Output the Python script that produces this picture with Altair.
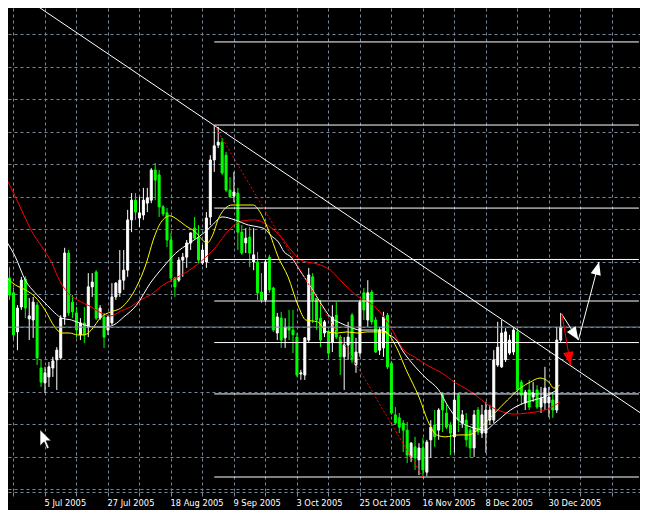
import altair as alt
import pandas as pd

# ---------------- data (EUR/USD daily) ----------------
bar_index = list(range(142))

open_ = [1.2070, 1.2175, 1.2135, 1.2030, 1.2097, 1.2172, 1.2065, 1.2062, 1.2102, 1.1933,
 1.1893, 1.1909, 1.1933, 1.1955, 1.1960, 1.2070, 1.2242, 1.2110, 1.2081, 1.2022,
 1.2054, 1.2043, 1.2151, 1.2191, 1.2067, 1.2070, 1.2035, 1.2054, 1.2124, 1.2135,
 1.2169, 1.2196, 1.2331, 1.2384, 1.2336, 1.2344, 1.2376, 1.2384, 1.2465, 1.2452,
 1.2366, 1.2350, 1.2277, 1.2175, 1.2169, 1.2223, 1.2231, 1.2269, 1.2309, 1.2282,
 1.2215, 1.2218, 1.2339, 1.2492, 1.2532, 1.2540, 1.2505, 1.2411, 1.2395, 1.2403,
 1.2298, 1.2269, 1.2285, 1.2218, 1.2218, 1.2137, 1.2116, 1.2231, 1.2148, 1.2027,
 1.2067, 1.2014, 1.2043, 1.2035, 1.2016, 1.1917, 1.1914, 1.2008, 1.2178, 1.2121,
 1.2067, 1.2027, 1.2030, 1.2003, 1.2075, 1.2016, 1.1963, 1.1995, 1.2075, 1.1941,
 1.1973, 1.2135, 1.2062, 1.2137, 1.2062, 1.1981, 1.1987, 1.2075, 1.1946, 1.1807,
 1.1799, 1.1785, 1.1766, 1.1694, 1.1721, 1.1686, 1.1718, 1.1653, 1.1740, 1.1780,
 1.1766, 1.1860, 1.1812, 1.1780, 1.1748, 1.1860, 1.1785, 1.1793, 1.1766, 1.1718,
 1.1820, 1.1758, 1.1758, 1.1793, 1.1793, 1.1941, 1.1936, 1.1955, 1.1973, 1.1976,
 1.2030, 1.1895, 1.1839, 1.1874, 1.1855, 1.1874, 1.1828, 1.1839, 1.1839, 1.1847,
 1.1820, 1.2008]

high = [1.2183, 1.2204, 1.2148, 1.2102, 1.2178, 1.2180, 1.2121, 1.2124, 1.2110, 1.1955,
 1.1936, 1.1949, 1.1963, 1.1989, 1.2075, 1.2256, 1.2250, 1.2129, 1.2097, 1.2067,
 1.2097, 1.2188, 1.2188, 1.2196, 1.2102, 1.2081, 1.2075, 1.2161, 1.2164, 1.2250,
 1.2250, 1.2358, 1.2403, 1.2403, 1.2393, 1.2417, 1.2417, 1.2470, 1.2484, 1.2465,
 1.2371, 1.2363, 1.2296, 1.2178, 1.2231, 1.2242, 1.2277, 1.2298, 1.2339, 1.2317,
 1.2264, 1.2352, 1.2505, 1.2586, 1.2581, 1.2551, 1.2514, 1.2446, 1.2460, 1.2417,
 1.2317, 1.2309, 1.2312, 1.2309, 1.2245, 1.2188, 1.2223, 1.2237, 1.2151, 1.2081,
 1.2084, 1.2067, 1.2089, 1.2089, 1.2027, 1.1928, 1.2016, 1.2202, 1.2188, 1.2124,
 1.2116, 1.2062, 1.2035, 1.2102, 1.2110, 1.2022, 1.2016, 1.2057, 1.2081, 1.2014,
 1.2116, 1.2148, 1.2169, 1.2143, 1.2070, 1.2043, 1.2084, 1.2081, 1.1952, 1.1828,
 1.1812, 1.1793, 1.1788, 1.1734, 1.1748, 1.1731, 1.1745, 1.1740, 1.1793, 1.1820,
 1.1825, 1.1866, 1.1834, 1.1788, 1.1901, 1.1866, 1.1820, 1.1812, 1.1772, 1.1820,
 1.1828, 1.1834, 1.1842, 1.1834, 1.1981, 1.2057, 1.2062, 1.2040, 1.2022, 1.2040,
 1.2040, 1.1901, 1.1874, 1.1901, 1.1895, 1.1887, 1.1882, 1.1936, 1.1882, 1.1868,
 1.2043, 1.2081]

low = [1.2057, 1.2116, 1.2008, 1.1981, 1.2089, 1.2067, 1.2008, 1.2014, 1.1941, 1.1882,
 1.1866, 1.1882, 1.1909, 1.1874, 1.1955, 1.2049, 1.2073, 1.2067, 1.2014, 1.2008,
 1.2000, 1.2016, 1.2124, 1.2062, 1.2062, 1.1987, 1.2022, 1.2049, 1.2116, 1.2124,
 1.2143, 1.2178, 1.2298, 1.2331, 1.2312, 1.2331, 1.2352, 1.2376, 1.2384, 1.2339,
 1.2341, 1.2258, 1.2164, 1.2124, 1.2164, 1.2178, 1.2202, 1.2250, 1.2277, 1.2215,
 1.2210, 1.2202, 1.2317, 1.2460, 1.2524, 1.2452, 1.2406, 1.2390, 1.2379, 1.2250,
 1.2237, 1.2242, 1.2204, 1.2196, 1.2116, 1.2108, 1.2110, 1.2135, 1.2030, 1.2008,
 1.1987, 1.1987, 1.2008, 1.1973, 1.1909, 1.1901, 1.1901, 1.2003, 1.2054, 1.2035,
 1.1989, 1.2016, 1.1960, 1.1976, 1.2011, 1.1914, 1.1874, 1.1955, 1.1946, 1.1920,
 1.1963, 1.2062, 1.2043, 1.2049, 1.1973, 1.1968, 1.1963, 1.1930, 1.1807, 1.1780,
 1.1758, 1.1707, 1.1678, 1.1680, 1.1659, 1.1645, 1.1640, 1.1643, 1.1691, 1.1721,
 1.1740, 1.1761, 1.1769, 1.1699, 1.1705, 1.1761, 1.1772, 1.1721, 1.1691, 1.1694,
 1.1753, 1.1745, 1.1705, 1.1780, 1.1785, 1.1936, 1.1933, 1.1949, 1.1968, 1.1968,
 1.1866, 1.1834, 1.1820, 1.1820, 1.1842, 1.1823, 1.1812, 1.1820, 1.1801, 1.1799,
 1.1812, 1.2003]

close = [1.2169, 1.2129, 1.2022, 1.2094, 1.2169, 1.2094, 1.2073, 1.2110, 1.1960, 1.1895,
 1.1920, 1.1936, 1.1952, 1.1981, 1.2067, 1.2242, 1.2081, 1.2084, 1.2035, 1.2054,
 1.2022, 1.2151, 1.2164, 1.2067, 1.2094, 1.2016, 1.2070, 1.2124, 1.2161, 1.2169,
 1.2196, 1.2331, 1.2384, 1.2352, 1.2350, 1.2384, 1.2390, 1.2465, 1.2438, 1.2366,
 1.2347, 1.2277, 1.2175, 1.2151, 1.2223, 1.2231, 1.2269, 1.2296, 1.2282, 1.2223,
 1.2250, 1.2336, 1.2492, 1.2530, 1.2540, 1.2457, 1.2411, 1.2393, 1.2406, 1.2298,
 1.2242, 1.2282, 1.2242, 1.2237, 1.2135, 1.2116, 1.2218, 1.2143, 1.2035, 1.2070,
 1.2008, 1.2043, 1.2035, 1.2022, 1.1914, 1.1920, 1.2014, 1.2183, 1.2116, 1.2062,
 1.2008, 1.2057, 1.1973, 1.2070, 1.2016, 1.1963, 1.1995, 1.2016, 1.1955, 1.1976,
 1.2110, 1.2089, 1.2135, 1.2057, 1.1976, 1.2035, 1.2070, 1.1936, 1.1812, 1.1785,
 1.1774, 1.1766, 1.1699, 1.1731, 1.1691, 1.1718, 1.1659, 1.1734, 1.1774, 1.1748,
 1.1820, 1.1820, 1.1774, 1.1758, 1.1847, 1.1793, 1.1807, 1.1740, 1.1718, 1.1807,
 1.1761, 1.1807, 1.1820, 1.1820, 1.1955, 1.1989, 1.2027, 1.2030, 1.2008, 1.2035,
 1.1874, 1.1860, 1.1868, 1.1828, 1.1866, 1.1828, 1.1852, 1.1879, 1.1855, 1.1820,
 1.2008, 1.2043]

# moving averages (sampled along the drawn lines)
ma_yellow_bars = [0, 2.5, 5, 7.5, 10, 12.5, 14.25, 16.25, 18.25, 20, 21.75, 24.25, 26.75, 29.25, 31.25,
 33.25, 35.75, 37.5, 39.5, 41.75, 43.75, 45.75, 48.25, 50, 51.25, 52.5, 54.25, 57.5, 63, 64.25,
 66.75, 69.25, 71.75, 74.25, 76.25, 79.25, 81.75, 84.25, 86.75, 89.25, 91.75, 94.25, 96.75, 99.25, 101.75,
 105, 107.5, 109.5, 111.75, 115, 117.5, 120.75, 124.25, 127.5, 130.75, 133.25, 135.75, 138, 139.25, 140.75]
ma_yellow = [1.2178, 1.2156, 1.2143, 1.2124, 1.2089, 1.2043, 1.2027, 1.2027, 1.2022, 1.2022, 1.2035, 1.2070, 1.2084, 1.2094, 1.2116,
 1.2151, 1.2215, 1.2277, 1.2325, 1.2342, 1.2331, 1.2315, 1.2298, 1.2277, 1.2269, 1.2288, 1.2339, 1.2371, 1.2371, 1.2358,
 1.2304, 1.2231, 1.2178, 1.2102, 1.2062, 1.2057, 1.2030, 1.2027, 1.2030, 1.2027, 1.2030, 1.2030, 1.2027, 1.1989, 1.1928,
 1.1855, 1.1785, 1.1753, 1.1748, 1.1753, 1.1753, 1.1774, 1.1812, 1.1847, 1.1879, 1.1895, 1.1906, 1.1895, 1.1879, 1.1887]

ma_white_bars = [0, 2.5, 5, 7.5, 10, 12.5, 14.25, 16.75, 20, 22.5, 25, 27.5, 30, 33.25, 36.75,
 40, 43.25, 46.75, 50, 52.5, 55, 58.25, 61.75, 64.25, 65.75, 67.5, 69.25, 70.75, 72.5, 75,
 77.5, 80, 82.5, 85, 87.5, 90, 92.5, 95.75, 97.5, 99.25, 100.75, 103.25, 106.75, 110, 112.5,
 115, 118.25, 121.75, 124.25, 128.25, 131.75, 134.25, 136.75, 140]
ma_white = [1.2277, 1.2231, 1.2169, 1.2135, 1.2108, 1.2081, 1.2067, 1.2062, 1.2049, 1.2043, 1.2043, 1.2049, 1.2070, 1.2102, 1.2161,
 1.2204, 1.2242, 1.2269, 1.2293, 1.2317, 1.2339, 1.2331, 1.2317, 1.2312, 1.2307, 1.2288, 1.2272, 1.2245, 1.2231, 1.2191,
 1.2151, 1.2108, 1.2070, 1.2054, 1.2043, 1.2035, 1.2035, 1.2035, 1.2022, 1.2008, 1.1981, 1.1946, 1.1906, 1.1874, 1.1828,
 1.1793, 1.1774, 1.1766, 1.1785, 1.1820, 1.1839, 1.1847, 1.1855, 1.1874]

ma_red_bars = [0, 2.5, 5, 6.75, 9.25, 11.75, 13.25, 15.75, 18.25, 21.75, 24.25, 26.75, 29.25, 31.75, 34.25,
 36.75, 40, 43.25, 46.75, 50, 53.25, 56.75, 60, 63.25, 66.75, 70, 72.5, 75, 79.25, 82.5,
 85, 87.5, 90, 92.5, 95.75, 98.25, 100.75, 104.25, 107.5, 110.75, 114.25, 117.5, 120, 122.5, 125.75,
 129.25, 132.5, 135.75, 138.25, 140.75]
ma_red = [1.2446, 1.2393, 1.2336, 1.2298, 1.2258, 1.2215, 1.2178, 1.2135, 1.2116, 1.2097, 1.2081, 1.2073, 1.2086, 1.2097, 1.2116,
 1.2129, 1.2156, 1.2175, 1.2196, 1.2223, 1.2256, 1.2304, 1.2328, 1.2331, 1.2315, 1.2285, 1.2250, 1.2223, 1.2212, 1.2196,
 1.2169, 1.2143, 1.2121, 1.2108, 1.2075, 1.2035, 1.1987, 1.1960, 1.1938, 1.1920, 1.1893, 1.1874, 1.1855, 1.1834, 1.1817,
 1.1809, 1.1812, 1.1817, 1.1825, 1.1842]

# axis ticks / labels (bar index -> date)
grid_bars = list(range(2, 163, 8))
label_bars = [10, 26, 42, 58, 74, 90, 106, 122, 138]
label_texts = ["5 Jul 2005", "27 Jul 2005", "18 Aug 2005", "9 Sep 2005", "3 Oct 2005",
               "25 Oct 2005", "16 Nov 2005", "8 Dec 2005", "30 Dec 2005"]
grid_prices = [1.28298, 1.27425, 1.26551, 1.25678, 1.24804, 1.23931, 1.23058, 1.22184,
               1.21311, 1.20437, 1.19564, 1.18690, 1.17817, 1.16943, 1.16070]

# Fibonacci retracement (Sep high -> Nov low)
fib_high, fib_low = 1.2586, 1.1640
fib_high_bar, fib_low_bar = 53, 106
fib_ratios = [0, 0.236, 0.382, 0.5, 0.618, 0.764, 1.0, 1.236]

# trend line (two points on the drawn line)
trend_bars = [5.75, 162]
trend_prices = [1.2922, 1.1807]

# hand-drawn arrows
white_arrow_bars = [141.25, 145.5, 150.75]
white_arrow_prices = [1.2078, 1.2008, 1.2218]
red_arrow_bars = [141.25, 143.5]
red_arrow_prices = [1.2081, 1.1941]
head_bars = [145.5, 150.75, 143.5]
head_prices = [1.2008, 1.2218, 1.1941]
head_angles = [147, 15, 170]
head_colors = ["#ffffff", "#ffffff", "#ff0000"]

cursor_bar, cursor_price = 8.75, 1.1767

# ---------------- build ----------------
GRID = "#778899"
PLOT_W, PLOT_H = 632, 483
X0 = 1.875
X1 = X0 + PLOT_W / 4
xs = alt.Scale(domain=[X0, X1], nice=False, zero=False)
ys = alt.Scale(domain=[1.16024, 1.29005], nice=False, zero=False)

label_expr = " : ".join(f"datum.value == {b} ? '{t}'" for b, t in zip(label_bars, label_texts)) + " : ''"

x_axis = alt.Axis(values=grid_bars, grid=True, gridColor=GRID, gridDash=[3, 3], gridWidth=1,
                  domain=True, domainColor=GRID, domainDash=[3, 3], domainWidth=1, offset=1,
                  ticks=True, tickColor=GRID, tickSize=4, tickWidth=1,
                  labelExpr=label_expr, labelAlign="left", labelOffset=-1, labelColor="#ffffff",
                  labelFont="DejaVu Sans", labelFontSize=8.3, labelPadding=2,
                  labelBaseline="top", labelFlush=False, labelOverlap=False, labelBound=False,
                  title=None)
y_axis = alt.Axis(values=grid_prices, grid=True, gridColor=GRID, gridDash=[3, 3], gridWidth=1,
                  labels=False, ticks=False, domain=False, title=None)

def X(field):
    return alt.X(field, scale=xs, axis=x_axis)

def Y(field):
    return alt.Y(field, scale=ys, axis=y_axis)

candles = pd.DataFrame({"bar": bar_index, "open": open_, "high": high, "low": low, "close": close})
candle_color = alt.condition("datum.close >= datum.open", alt.value("#ffffff"), alt.value("#00ff00"))

wicks = alt.Chart(candles).mark_rule(strokeWidth=1).encode(
    x=X("bar:Q"), y=Y("low:Q"), y2="high:Q", color=candle_color)
bodies = alt.Chart(candles).mark_bar(width=2, strokeWidth=1).encode(
    x=X("bar:Q"), y=Y("open:Q"), y2="close:Q", color=candle_color, stroke=candle_color)

def ma_layer(bars, vals, colour):
    df = pd.DataFrame({"bar": bars, "price": vals})
    return alt.Chart(df).mark_line(color=colour, strokeWidth=1, interpolate="monotone", clip=True).encode(
        x=X("bar:Q"), y=Y("price:Q"))

fib_df = pd.DataFrame({"ratio": fib_ratios})
fib = alt.Chart(fib_df).transform_calculate(
    level=f"{fib_low} + datum.ratio * ({fib_high} - {fib_low})",
    start=f"{fib_high_bar}", end=f"{X1 + 1}",
).mark_rule(color="#ffffff", strokeWidth=1, clip=True).encode(
    x=X("start:Q"), x2="end:Q", y=Y("level:Q"))

fib_diag = alt.Chart(pd.DataFrame({"bar": [fib_high_bar, fib_low_bar], "price": [fib_high, fib_low]})).mark_line(
    color="#ff0000", strokeWidth=1, strokeDash=[2, 2], clip=True).encode(x=X("bar:Q"), y=Y("price:Q"))

bid = alt.Chart(pd.DataFrame({"price": [close[-1]]})).mark_rule(color=GRID, strokeWidth=1).encode(
    y=Y("price:Q"))

trend = alt.Chart(pd.DataFrame({"bar": trend_bars, "price": trend_prices})).mark_line(
    color="#ffffff", strokeWidth=1, clip=True).encode(x=X("bar:Q"), y=Y("price:Q"))

white_arrow = alt.Chart(pd.DataFrame({"bar": white_arrow_bars, "price": white_arrow_prices,
                                      "o": list(range(len(white_arrow_bars)))})).mark_line(
    color="#ffffff", strokeWidth=1, clip=True).encode(x=X("bar:Q"), y=Y("price:Q"), order="o:Q")
red_arrow = alt.Chart(pd.DataFrame({"bar": red_arrow_bars, "price": red_arrow_prices})).mark_line(
    color="#ff0000", strokeWidth=1).encode(x=X("bar:Q"), y=Y("price:Q"))
heads = alt.Chart(pd.DataFrame({"bar": head_bars, "price": head_prices, "ang": head_angles,
                                "col": head_colors})).mark_point(
    shape="M0,0L0.8,2L-0.8,2Z", filled=True, size=169, opacity=1, strokeWidth=0).encode(
    x=X("bar:Q"), y=Y("price:Q"),
    angle=alt.Angle("ang:Q", scale=None), color=alt.Color("col:N", scale=None))

cursor = alt.Chart(pd.DataFrame({"bar": [cursor_bar], "price": [cursor_price]})).mark_point(
    shape="M0,0L0,16L4,12L7,19L9,18L6,11L11,11Z", filled=True, size=4, fill="#ffffff",
    stroke="#000000", strokeWidth=0.5, opacity=1).encode(x=X("bar:Q"), y=Y("price:Q"))

chart = alt.layer(
    wicks, bodies,
    ma_layer(ma_red_bars, ma_red, "#ff0000"),
    ma_layer(ma_white_bars, ma_white, "#ffffff"),
    ma_layer(ma_yellow_bars, ma_yellow, "#ffff00"),
    bid, fib, fib_diag, trend, white_arrow, red_arrow, heads, cursor,
).properties(
    width=PLOT_W, height=PLOT_H,
    padding={"left": 0, "top": 0, "right": 0, "bottom": 19},
    autosize=alt.AutoSizeParams(type="none"),
    background="#000000",
).configure_view(stroke=None)

chart.save("out.html", embed_options={"renderer": "svg", "actions": False})
